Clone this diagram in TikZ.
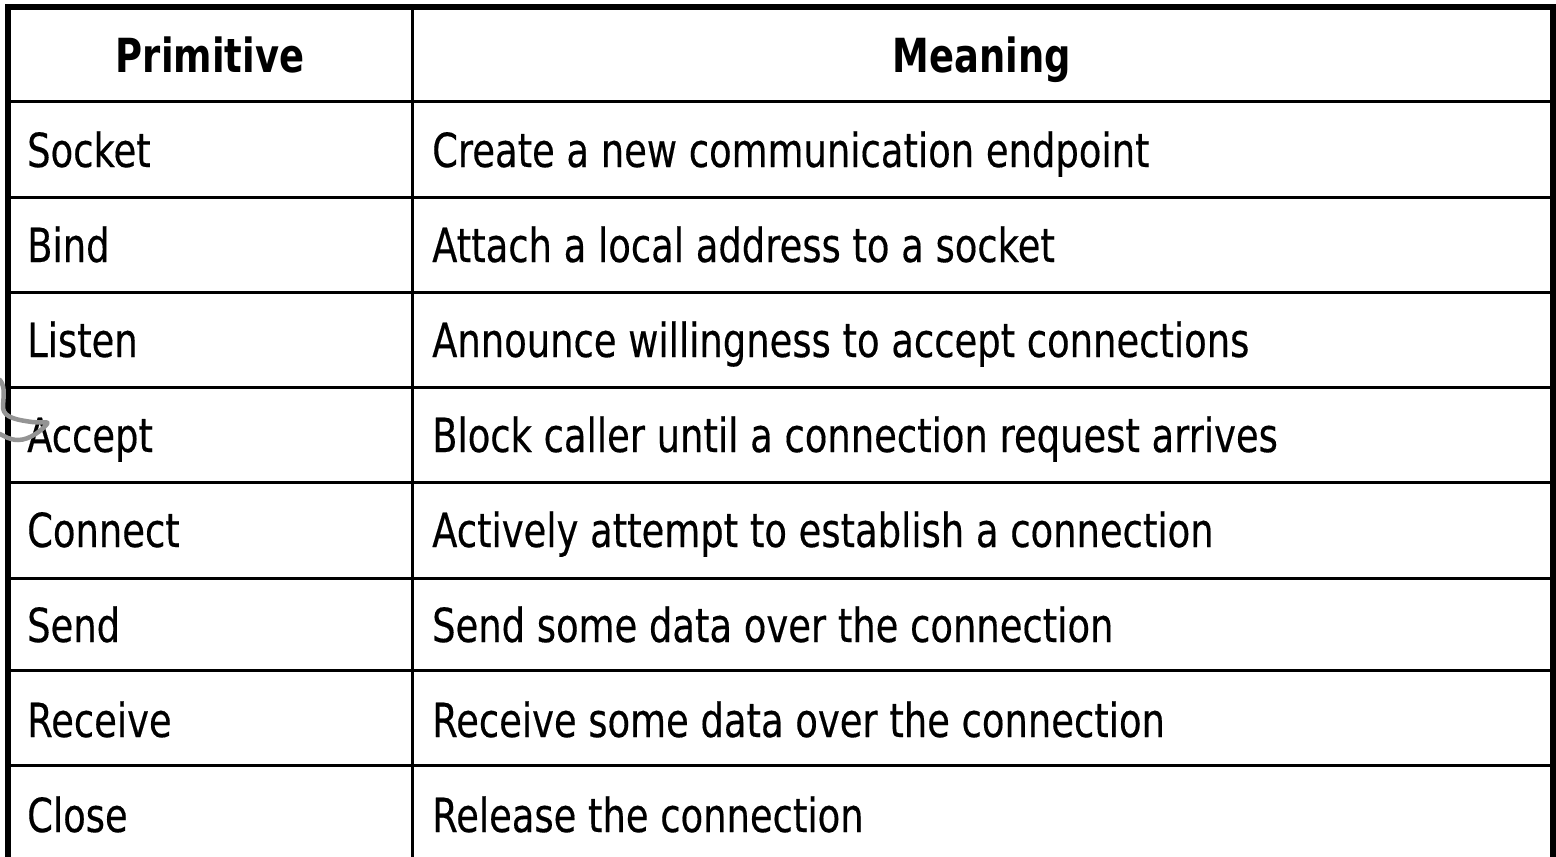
\documentclass[tikz,border=0pt]{standalone}
\usepackage{fontspec}
\setmainfont{DejaVu Sans}[FakeStretch=0.785,UprightFeatures={FakeBold=0.3}]
\begin{document}
\begin{tikzpicture}[x=1pt,y=-1pt,
  frame/.style={line width=6pt,line join=miter,black},
  rule/.style={line width=3pt,black},
  cell/.style={anchor=base west,inner sep=0pt,font=\fontsize{47}{56}\selectfont},
  head/.style={anchor=base,inner sep=0pt,font=\fontsize{47}{56}\selectfont\bfseries},
  scribble/.style={line width=4.5pt,draw=black!42,line cap=round,line join=round}]
\useasboundingbox (0,0) rectangle (1556,857);
\fill[white] (0,0) rectangle (1556,857);

% column divider and row rules
\draw[rule] (412,7) -- (412,857);
\foreach \y in {101,197,292,387,482,578,670,765}
  \draw[rule] (8,\y) -- (1553,\y);

% outer frame (open at the bottom)
\draw[frame] (8,857) -- (8,7) -- (1553,7) -- (1553,857);

% header
\node[head] (hp) at (210,72) {Primitive};
\node[head] (hm) at (982,72) {Meaning};

% body rows
\node[cell] (p1) at (27,167) {Socket};
\node[cell] (m1) at (432,167) {Create a new communication endpoint};
\node[cell] (p2) at (27,262) {Bind};
\node[cell] (m2) at (432,262) {Attach a local address to a socket};
\node[cell] (p3) at (27,357) {Listen};
\node[cell] (m3) at (432,357) {Announce willingness to accept connections};
\node[cell] (p4) at (27,452) {Accept};
\node[cell] (m4) at (432,452) {Block caller until a connection request arrives};
\node[cell] (p5) at (27,547) {Connect};
\node[cell] (m5) at (432,547) {Actively attempt to establish a connection};
\node[cell] (p6) at (27,642) {Send};
\node[cell] (m6) at (432,642) {Send some data over the connection};
\node[cell] (p7) at (27,737) {Receive};
\node[cell] (m7) at (432,737) {Receive some data over the connection};
\node[cell] (p8) at (27,832) {Close};
\node[cell] (m8) at (432,832) {Release the connection};

% grey pen scribble at the left edge
\draw[scribble] (0,380) .. controls (6,388) and (3,398) .. (3,408)
  .. controls (4,418) and (18,420) .. (32,422)
  .. controls (42,423) and (50,421) .. (47,424)
  .. controls (42,430) and (30,440) .. (18,440)
  .. controls (10,440) and (4,436) .. (0,434);
\end{tikzpicture}
\end{document}
